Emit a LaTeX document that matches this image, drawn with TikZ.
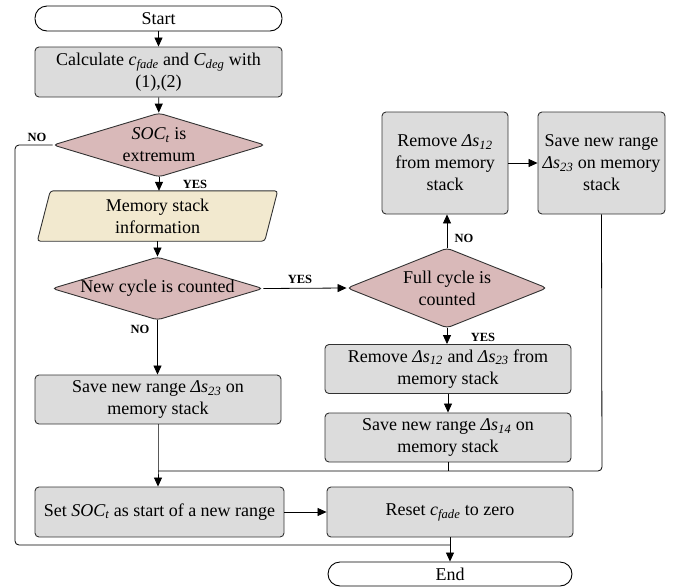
\documentclass[tikz,border=0pt]{standalone}
\usepackage{fontspec}
\setmainfont{Liberation Serif}
\usetikzlibrary{arrows.meta,shapes.geometric,calc}
\definecolor{boxgray}{RGB}{220,220,220}
\definecolor{decpink}{RGB}{217,185,185}
\definecolor{iocream}{RGB}{242,233,207}
\definecolor{edgegray}{RGB}{50,50,50}
\newcommand{\mysub}[1]{\textsubscript{\itshape #1}}
\newcommand{\ds}[1]{{\itshape Δs}\mysub{#1}}
\tikzset{
  base/.style={font=\fontsize{18}{22}\selectfont, align=center, inner sep=0pt},
  procbox/.style={base, draw=edgegray, line width=0.9pt, fill=boxgray, rounded corners=4pt},
  termbox/.style={base, draw=black, line width=0.9pt, fill=white, rounded corners=12pt},
  decbox/.style={base, shape=diamond, draw=edgegray, line width=0.9pt, fill=decpink, rounded corners=4pt},
  conn/.style={line width=0.8pt, draw=black},
  arr/.style={conn, -{Triangle[length=9pt,width=8pt]}},
  lbl/.style={font=\fontsize{12.5}{13}\selectfont\bfseries, inner sep=0pt}
}
\begin{document}
\begin{tikzpicture}[x=1pt,y=-1pt]
\useasboundingbox (0,0) rectangle (683,587);
% left column
\node[termbox, minimum width=247pt, minimum height=25pt] (start) at (158.5,18.5) {Start};
\node[procbox, minimum width=247pt, minimum height=50pt] (calc) at (158.5,72) {Calculate {\itshape c}\mysub{fade} and {\itshape C}\mysub{deg} with\\(1),(2)};
\node[decbox, minimum width=212pt, minimum height=64pt] (d1) at (159,145) {};
\node[base] at (159,145) {{\itshape SOC}\mysub{t} is\\extremum};
\node[base, minimum width=227pt, minimum height=50pt] (mem) at (157.5,216) {};
\node[decbox, minimum width=211pt, minimum height=63pt] (d2) at (157.5,288.5) {};
\node[base] at (157.5,288.5) {New cycle is counted};
\node[procbox, minimum width=246pt, minimum height=49pt] (save1) at (158,399.5) {Save new range \ds{23} on\\memory stack};
\node[procbox, minimum width=249pt, minimum height=50pt] (set) at (159.5,512) {Set {\itshape SOC}\mysub{t} as start of a new range};
% right column
\node[decbox, minimum width=200pt, minimum height=80pt] (d3) at (447,288) {};
\node[base] at (447,288) {Full cycle is\\counted};
\node[procbox, minimum width=126pt, minimum height=102pt] (rem1) at (445,163) {Remove \ds{12}\\from memory\\stack};
\node[procbox, minimum width=127pt, minimum height=102pt] (save2) at (601.5,163) {Save new range\\\ds{23} on memory\\stack};
\node[procbox, minimum width=246pt, minimum height=49pt] (rem2) at (448,369) {Remove \ds{12} and \ds{23} from\\memory stack};
\node[procbox, minimum width=246pt, minimum height=49pt] (save3) at (448,437.5) {Save new range \ds{14} on\\memory stack};
\node[procbox, minimum width=246pt, minimum height=50pt] (reset) at (450,512) {Reset {\itshape c}\mysub{fade} to zero};
\node[termbox, minimum width=244pt, minimum height=24pt] (end) at (450,574) {End};
% parallelogram
\draw[draw=edgegray, fill=iocream, line width=0.9pt, rounded corners=3pt] ([xshift=6.5pt]mem.north west) -- ([xshift=6.5pt]mem.north east) -- ([xshift=-6.5pt]mem.south east) -- ([xshift=-6.5pt]mem.south west) -- cycle;
\node[base] at (mem.center) {Memory stack\\information};
% coordinates
\coordinate (nol) at (15,145);
\coordinate (nob) at (15,545);
\coordinate (jb) at (450,545);
\coordinate (mr) at (602,471);
\coordinate (ml) at (158,471);
% connectors
\draw[arr] (start) -- (calc);
\draw[arr] (calc) -- (d1);
\draw[arr] (d1.south) -- (mem.north -| d1.south);
\draw[arr] (mem) -- (d2);
\draw[arr] (d2.south) -- (save1.north -| d2.south);
\draw[arr] (d2.east) -- (d3.west);
\draw[arr] (d3.north) -- (rem1.south -| d3.north);
\draw[arr] (d3.south) -- (rem2.north -| d3.south);
\draw[arr] (rem1.east) -- (save2.west);
\draw[arr] (rem2) -- (save3);
\draw[conn, rounded corners=4pt] (save2.south) -- (mr) -- (ml);
\draw[conn] (save3.south) -- (save3.south |- mr);
\draw[arr] (save1.south -| ml) -- (ml) -- (set.north -| ml);
\draw[arr] (set.east) -- (reset.west);
\draw[arr] (reset.south) -- (end.north);
\draw[conn, rounded corners=4pt] (d1.west) -- (nol) -- (nob) -- (jb);
% labels
\node[lbl] at (37,137) {NO};
\node[lbl] at (195,184) {YES};
\node[lbl] at (300,279) {YES};
\node[lbl] at (140,329) {NO};
\node[lbl] at (464,238) {NO};
\node[lbl] at (483,337) {YES};
\end{tikzpicture}
\end{document}
